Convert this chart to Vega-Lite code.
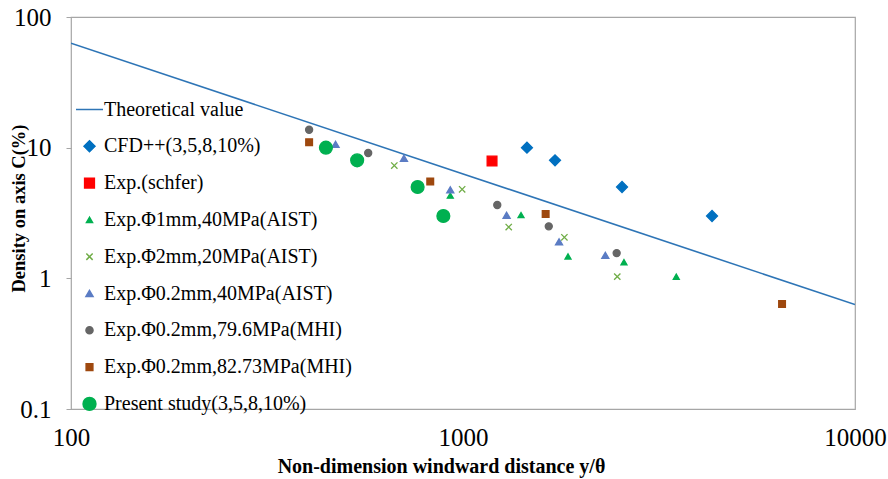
{
  "$schema": "https://vega.github.io/schema/vega-lite/v6.json",
  "autosize": {"type": "none"},
  "width": 784,
  "height": 392,
  "padding": {"left": 71, "top": 17, "right": 33, "bottom": 70},
  "background": "white",
  "config": {
    "view": {"stroke": "#a6a6a6", "strokeWidth": 1.2},
    "font": "Liberation Serif",
    "legend": {"labelFont": "Liberation Serif", "labelLimit": 400}
  },
  "data": {
    "values": [
      {"series": "Theoretical value", "x": 100, "y": 63},
      {"series": "Theoretical value", "x": 10000, "y": 0.63},
      {"series": "CFD++(3,5,8,10%)", "x": 1456, "y": 10},
      {"series": "CFD++(3,5,8,10%)", "x": 1717, "y": 8},
      {"series": "CFD++(3,5,8,10%)", "x": 2545, "y": 5},
      {"series": "CFD++(3,5,8,10%)", "x": 4318, "y": 3},
      {"series": "Exp.(schfer)", "x": 1186, "y": 7.9},
      {"series": "Exp.Φ1mm,40MPa(AIST)", "x": 928, "y": 4.3},
      {"series": "Exp.Φ1mm,40MPa(AIST)", "x": 1406, "y": 3.05},
      {"series": "Exp.Φ1mm,40MPa(AIST)", "x": 1853, "y": 1.47},
      {"series": "Exp.Φ1mm,40MPa(AIST)", "x": 2574, "y": 1.33},
      {"series": "Exp.Φ1mm,40MPa(AIST)", "x": 3500, "y": 1.03},
      {"series": "Exp.Φ2mm,20MPa(AIST)", "x": 668, "y": 7.3},
      {"series": "Exp.Φ2mm,20MPa(AIST)", "x": 995, "y": 4.8},
      {"series": "Exp.Φ2mm,20MPa(AIST)", "x": 1308, "y": 2.47},
      {"series": "Exp.Φ2mm,20MPa(AIST)", "x": 1814, "y": 2.06},
      {"series": "Exp.Φ2mm,20MPa(AIST)", "x": 2475, "y": 1.03},
      {"series": "Exp.Φ0.2mm,40MPa(AIST)", "x": 473, "y": 10.6},
      {"series": "Exp.Φ0.2mm,40MPa(AIST)", "x": 707, "y": 8.3},
      {"series": "Exp.Φ0.2mm,40MPa(AIST)", "x": 928, "y": 4.75},
      {"series": "Exp.Φ0.2mm,40MPa(AIST)", "x": 1292, "y": 3.04},
      {"series": "Exp.Φ0.2mm,40MPa(AIST)", "x": 1758, "y": 1.9},
      {"series": "Exp.Φ0.2mm,40MPa(AIST)", "x": 2307, "y": 1.5},
      {"series": "Exp.Φ0.2mm,79.6MPa(MHI)", "x": 405, "y": 13.7},
      {"series": "Exp.Φ0.2mm,79.6MPa(MHI)", "x": 573, "y": 9.1},
      {"series": "Exp.Φ0.2mm,79.6MPa(MHI)", "x": 1223, "y": 3.64},
      {"series": "Exp.Φ0.2mm,79.6MPa(MHI)", "x": 1655, "y": 2.5},
      {"series": "Exp.Φ0.2mm,79.6MPa(MHI)", "x": 2466, "y": 1.56},
      {"series": "Exp.Φ0.2mm,82.73MPa(MHI)", "x": 405, "y": 11},
      {"series": "Exp.Φ0.2mm,82.73MPa(MHI)", "x": 825, "y": 5.5},
      {"series": "Exp.Φ0.2mm,82.73MPa(MHI)", "x": 1625, "y": 3.11},
      {"series": "Exp.Φ0.2mm,82.73MPa(MHI)", "x": 6515, "y": 0.637},
      {"series": "Present study(3,5,8,10%)", "x": 447, "y": 10},
      {"series": "Present study(3,5,8,10%)", "x": 537, "y": 8},
      {"series": "Present study(3,5,8,10%)", "x": 766, "y": 5},
      {"series": "Present study(3,5,8,10%)", "x": 891, "y": 3}
    ]
  },
  "encoding": {
    "x": {
      "field": "x", "type": "quantitative",
      "scale": {"type": "log", "domain": [100, 10000], "nice": false},
      "axis": {
        "values": [100, 1000, 10000], "format": "d", "grid": false, "domain": false,
        "ticks": false, "tickSize": 0, "labelFlush": false, "labelOverlap": false,
        "labelFont": "Liberation Serif", "labelFontSize": 25, "labelColor": "#000000", "labelPadding": 16,
        "title": "Non-dimension windward distance y/θ",
        "titleFont": "Liberation Serif", "titleFontSize": 20, "titleFontWeight": "bold", "titleColor": "#000000",
        "titleX": 370, "titleY": 57, "titleAlign": "center", "titleBaseline": "middle"
      }
    },
    "y": {
      "field": "y", "type": "quantitative",
      "scale": {"type": "log", "domain": [0.1, 100], "nice": false},
      "axis": {
        "values": [0.1, 1, 10, 100], "format": "~g", "grid": false, "domain": false,
        "ticks": true, "tickSize": 5, "tickColor": "#a6a6a6", "labelFlush": false, "labelOverlap": false,
        "labelFont": "Liberation Serif", "labelFontSize": 25, "labelColor": "#000000", "labelPadding": 15,
        "title": "Density on axis C(%)",
        "titleFont": "Liberation Serif", "titleFontSize": 18.5, "titleFontWeight": "bold", "titleColor": "#000000",
        "titleX": -53, "titleY": 191, "titleAngle": -90, "titleAlign": "center", "titleBaseline": "middle"
      }
    }
  },
  "layer": [
    {
      "transform": [{"filter": "datum.series === 'Theoretical value'"}],
      "mark": {"type": "line", "color": "#2e75b6", "strokeWidth": 1.6, "clip": true},
      "encoding": {}
    },
    {
      "transform": [{"filter": "datum.series !== 'Theoretical value'"}],
      "mark": {"type": "point", "filled": true, "opacity": 1, "strokeWidth": 1.3},
      "encoding": {
        "fill": {
          "field": "series", "type": "nominal",
          "scale": {
            "domain": ["Theoretical value", "CFD++(3,5,8,10%)", "Exp.(schfer)", "Exp.Φ1mm,40MPa(AIST)", "Exp.Φ2mm,20MPa(AIST)", "Exp.Φ0.2mm,40MPa(AIST)", "Exp.Φ0.2mm,79.6MPa(MHI)", "Exp.Φ0.2mm,82.73MPa(MHI)", "Present study(3,5,8,10%)"],
            "range": ["#2e75b6", "#0070c0", "#ff0000", "#00b050", "#70ad47", "#5b7cc4", "#666666", "#9e480e", "#00b050"]
          },
          "legend": {
            "title": null, "orient": "none", "legendX": 4, "legendY": 79,
            "labelFont": "Liberation Serif", "labelFontSize": 20, "labelColor": "#000000", "labelLimit": 400,
            "rowPadding": 9.8, "clipHeight": 27, "labelOffset": 0, "symbolStrokeWidth": 1.5,
            "padding": 0, "symbolOpacity": 1
          }
        },
        "stroke": {
          "field": "series", "type": "nominal",
          "scale": {
            "domain": ["Theoretical value", "CFD++(3,5,8,10%)", "Exp.(schfer)", "Exp.Φ1mm,40MPa(AIST)", "Exp.Φ2mm,20MPa(AIST)", "Exp.Φ0.2mm,40MPa(AIST)", "Exp.Φ0.2mm,79.6MPa(MHI)", "Exp.Φ0.2mm,82.73MPa(MHI)", "Present study(3,5,8,10%)"],
            "range": ["#2e75b6", "#0070c0", "#ff0000", "#00b050", "#70ad47", "#5b7cc4", "#666666", "#9e480e", "#00b050"]
          }
        },
        "shape": {
          "field": "series", "type": "nominal",
          "scale": {
            "domain": ["Theoretical value", "CFD++(3,5,8,10%)", "Exp.(schfer)", "Exp.Φ1mm,40MPa(AIST)", "Exp.Φ2mm,20MPa(AIST)", "Exp.Φ0.2mm,40MPa(AIST)", "Exp.Φ0.2mm,79.6MPa(MHI)", "Exp.Φ0.2mm,82.73MPa(MHI)", "Present study(3,5,8,10%)"],
            "range": ["stroke", "diamond", "square", "triangle-up", "M-1,-1L1,1M-1,1L1,-1", "triangle-up", "circle", "square", "circle"]
          }
        },
        "size": {
          "field": "series", "type": "nominal",
          "scale": {
            "type": "ordinal",
            "domain": ["Theoretical value", "CFD++(3,5,8,10%)", "Exp.(schfer)", "Exp.Φ1mm,40MPa(AIST)", "Exp.Φ2mm,20MPa(AIST)", "Exp.Φ0.2mm,40MPa(AIST)", "Exp.Φ0.2mm,79.6MPa(MHI)", "Exp.Φ0.2mm,82.73MPa(MHI)", "Present study(3,5,8,10%)"],
            "range": [729, 120, 95, 36, 40, 50, 50, 45, 165]
          }
        }
      }
    }
  ]
}
